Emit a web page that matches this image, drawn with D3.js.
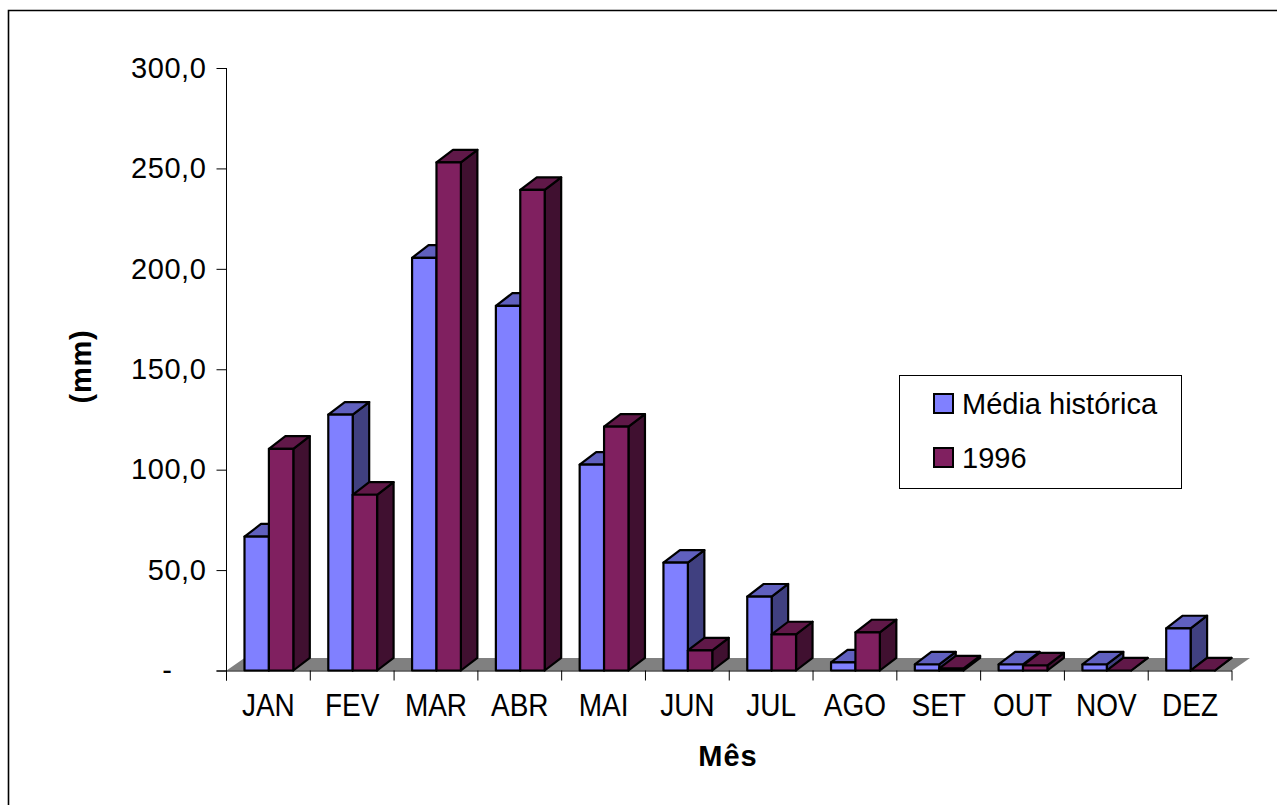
<!DOCTYPE html>
<html><head><meta charset="utf-8">
<script src="https://cdn.jsdelivr.net/npm/d3@7/dist/d3.min.js"></script>
<style>html,body{margin:0;padding:0;background:#fff}svg{display:block}text{font-family:"Liberation Sans",Arial,sans-serif;fill:#000}</style>
</head><body><svg id="c" width="1277" height="805"></svg>
<script>
const months=["JAN","FEV","MAR","ABR","MAI","JUN","JUL","AGO","SET","OUT","NOV","DEZ"];
const historica=[66.7,127.4,205.5,181.6,102.5,53.7,36.8,4,3,3,3,21];
const ano1996=[110.4,87.5,253,239.3,121.4,10,18,19,1,2.5,0,0];
const yTicks=[0,50,100,150,200,250,300];
const seriesNames=["Média histórica","1996"];

const svg=d3.select("#c");
const x=d3.scaleBand().domain(months).range([226.5,1232]);
const y=d3.scaleLinear().domain([0,300]).range([670.5,68]);
const dx=16.5,dy=12.6,bw=24.4,inset=18,FS=29;
const col=[{f:"#8080ff",t:"#6060bf",s:"#404080"},{f:"#802060",t:"#601848",s:"#401030"}];

svg.append("path").attr("d","M8.5,805V10.5H1277").attr("fill","none").attr("stroke","#000").attr("stroke-width",1.6);

const [x0,x1]=x.range(),b=y(0);
svg.append("polygon").attr("fill","#808080")
 .attr("points",[[x0,b],[x0+18,b-12.5],[x1+18,b-12.5],[x1,b]].join(" "));

const yAxis=d3.axisLeft(y).tickValues(yTicks).tickSize(10).tickPadding(10)
 .tickFormat(v=>v===0?"-":d3.format(".1f")(v).replace(".",","));
const gy=svg.append("g").attr("transform","translate(226.5,0)").call(yAxis);
const xAxis=d3.axisBottom(x).tickSize(0).tickPadding(21.5);
const gx=svg.append("g").attr("transform",`translate(0,${b})`).call(xAxis);
gx.selectAll(".tk").data(d3.range(13)).enter().append("line").attr("class","tk")
 .attr("x1",i=>x0+i*x.step()).attr("x2",i=>x0+i*x.step()).attr("y1",0).attr("y2",10).attr("stroke","#000");
[gy,gx].forEach(g=>{g.selectAll("path,line").attr("stroke","#000").attr("stroke-width",1);
 g.selectAll("text").attr("font-size",FS).attr("font-family",null).attr("fill","#000")});
gy.selectAll("text").attr("letter-spacing",0.6);
gy.selectAll(".tick").filter(d=>d===0).select("text").attr("x",-54);
gx.selectAll(".tick text").attr("font-size",28).attr("transform","scale(1,1.1)");
gy.select("path").remove();
gx.select("path").remove();
svg.append("line").attr("x1",x0).attr("x2",x0).attr("y1",y(300)).attr("y2",b+10).attr("stroke","#000");
svg.append("line").attr("x1",x0-10).attr("x2",x1).attr("y1",b+.5).attr("y2",b+.5).attr("stroke","#000");

function bar(g,xl,v,c){
 const top=y(v),xr=xl+bw;
 const p=g.append("g").attr("stroke","#000").attr("stroke-width",2.2).attr("stroke-linejoin","round");
 p.append("polygon").attr("fill",c.s).attr("points",[[xr,top],[xr+dx,top-dy],[xr+dx,b-dy],[xr,b]].join(" "));
 p.append("polygon").attr("fill",c.t).attr("points",[[xl,top],[xl+dx,top-dy],[xr+dx,top-dy],[xr,top]].join(" "));
 if(v>0)p.append("rect").attr("x",xl).attr("y",top).attr("width",bw).attr("height",b-top).attr("fill",c.f);
}
const gb=svg.append("g");
months.forEach((m,i)=>{
 const l=x(m)+inset;
 bar(gb,l,historica[i],col[0]);
 bar(gb,l+bw,ano1996[i],col[1]);
});

svg.append("text").attr("x",728).attr("y",766).attr("text-anchor","middle").attr("font-size",FS).attr("font-weight","bold").attr("letter-spacing",1).text("Mês");
svg.append("text").attr("transform","translate(91,366.5) rotate(-90)").attr("text-anchor","middle").attr("font-size",FS).attr("font-weight","bold").attr("letter-spacing",0.8).text("(mm)");

const lg=svg.append("g");
lg.append("rect").attr("x",899.5).attr("y",375.5).attr("width",282).attr("height",113).attr("fill","#fff").attr("stroke","#000");
seriesNames.forEach((n,i)=>{
 const cy=[404,458][i];
 lg.append("rect").attr("x",934).attr("y",cy-10).attr("width",19).attr("height",19).attr("fill",col[i].f).attr("stroke","#000").attr("stroke-width",2);
 lg.append("text").attr("x",962).attr("y",cy+10).attr("font-size",FS).text(n);
});
</script></body></html>
